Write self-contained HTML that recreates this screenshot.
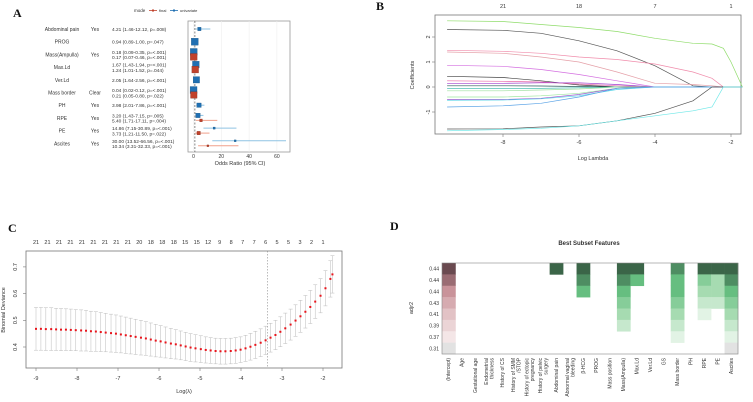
<!DOCTYPE html>
<html><head><meta charset="utf-8"><style>
body{margin:0;background:#fff}
svg{display:block;font-family:"Liberation Sans",sans-serif}
.t{font-size:5.5px;fill:#333}
.L{font-family:"Liberation Serif",serif;font-weight:bold;font-size:12px;fill:#111}
</style></head><body>
<svg id="fig" width="753" height="402" viewBox="0 0 753 402">
<text class="L" x="13" y="17">A</text>
<text class="L" x="376" y="10">B</text>
<text class="L" x="8" y="232">C</text>
<text class="L" x="390" y="230">D</text>
<g id="A"></g>
<g id="B"></g>
<g id="C"></g>
<g id="D"></g>
</svg>
<script>
// ---------- Panel A data ----------
const aVars=["Abdominal pain","PROG","Mass(Ampulla)","Max.Ld","Ver.Ld","Mass border","PH","RPE","PE","Ascites"];
const aLevel=["Yes","","Yes","","","Clear","Yes","Yes","Yes","Yes"];
const uniOR=[4.21,0.94,0.18,1.67,2.05,0.04,3.98,3.20,14.86,30.00];
const uniLo=[1.46,0.89,0.09,1.43,1.64,0.02,2.01,1.43,7.15,13.52];
const uniHi=[12.12,1.00,0.35,1.94,2.56,0.12,7.86,7.15,30.89,66.56];
const uniP=[".008",".047","<.001","<.001","<.001","<.001","<.001",".005","<.001","<.001"];
const finOR=[null,null,0.17,1.24,null,0.21,null,5.40,3.73,10.34];
const finLo=[null,null,0.07,1.01,null,0.05,null,1.71,1.21,3.31];
const finHi=[null,null,0.46,1.52,null,0.80,null,17.11,11.50,32.33];
const finP=[null,null,"<.001",".044",null,".022",null,".004",".022","<.001"];
const aTicks=[0,20,40,60];

// ---------- Panel B data ----------
const bLambda=[-9.47,-8,-7,-6,-5,-4,-3,-2.5,-2.2,-2,-1.7];
const bPaths=[
 [2.65,2.62,2.5,2.38,2.22,1.95,1.75,1.72,1.55,1.0,0],
 [2.3,2.27,2.15,1.85,1.45,0.85,0.05,0,0,0,0],
 [1.47,1.43,1.35,1.2,1.1,0.92,0.6,0.35,0,0,0],
 [1.4,1.35,1.2,1.0,0.6,0.15,0.1,0.05,0,0,0],
 [0.87,0.83,0.7,0.5,0.25,0,0,0,0,0,0],
 [0.43,0.38,0.25,0.08,0,0,0,0,0,0,0],
 [0.25,0.23,0.2,0.12,0.05,0,0,0,0,0,0],
 [0.15,0.15,0.17,0.17,0.1,0,0,0,0,0,0],
 [0.05,0.05,0.04,0.02,0,0,0,0,0,0,0],
 [-0.05,-0.05,-0.05,-0.03,0,0,0,0,0,0,0],
 [-0.15,-0.15,-0.12,-0.08,0,0,0,0,0,0,0],
 [-0.4,-0.4,-0.35,-0.25,-0.05,0,0,0,0,0,0],
 [-0.5,-0.5,-0.45,-0.3,-0.05,0,0,0,0,0,0],
 [-0.53,-0.52,-0.47,-0.35,-0.1,0,0,0,0,0,0],
 [-0.8,-0.75,-0.65,-0.4,-0.05,0,0,0,0,0,0],
 [-1.68,-1.67,-1.6,-1.55,-1.35,-1.05,-0.55,0,0,0,0],
 [-1.75,-1.7,-1.65,-1.55,-1.35,-1.15,-0.95,-0.8,0,0,0]];
const bColors=["#8fdc6a","#555","#f08cab","#e5a0a8","#d46fe0","#444","#e86aa8","#a03fcf","#2a5a5a","#2bb5a8","#9fe0a0","#9ee7a0","#9b59d0","#5ad6e8","#5aa3e6","#555","#6ee8e8"];
const bTopLabels=["21","18","7","1"];
const bTopAt=[-8,-6,-4,-2];
const bXTicks=[-8,-6,-4,-2];
const bYTicks=[-1,0,1,2];

// ---------- Panel C data ----------
const cLambda=[-9.00,-8.88,-8.76,-8.63,-8.51,-8.39,-8.27,-8.15,-8.03,-7.90,-7.78,-7.66,-7.54,-7.42,-7.30,-7.17,-7.05,-6.93,-6.81,-6.69,-6.57,-6.44,-6.32,-6.20,-6.08,-5.96,-5.84,-5.71,-5.59,-5.47,-5.35,-5.23,-5.11,-4.98,-4.86,-4.74,-4.62,-4.50,-4.38,-4.25,-4.13,-4.01,-3.89,-3.77,-3.65,-3.52,-3.40,-3.28,-3.16,-3.04,-2.92,-2.79,-2.67,-2.55,-2.43,-2.31,-2.19,-2.06,-1.94,-1.82,-1.77];
const cDev=[.468,.468,.467,.467,.466,.465,.465,.464,.463,.462,.461,.459,.458,.456,.454,.452,.450,.447,.444,.441,.438,.435,.432,.428,.424,.421,.417,.413,.410,.406,.402,.398,.395,.392,.389,.387,.385,.384,.384,.385,.387,.390,.395,.401,.408,.416,.425,.435,.445,.457,.470,.484,.499,.515,.532,.550,.570,.592,.620,.655,.672];
const cSE=[.080,.080,.080,.080,.079,.079,.078,.078,.077,.077,.076,.075,.074,.073,.072,.071,.070,.069,.068,.067,.066,.065,.063,.062,.061,.059,.058,.057,.055,.054,.053,.052,.051,.050,.049,.048,.048,.048,.048,.048,.048,.048,.049,.050,.051,.052,.053,.054,.055,.056,.057,.058,.059,.060,.061,.062,.063,.064,.066,.068,.070];
const cTop=["21","21","21","21","21","21","21","21","21","20","18","18","18","15","15","12","9","8","7","7","6","5","5","3","2","1"];
const cXTicks=[-9,-8,-7,-6,-5,-4,-3,-2];
const cYTicks=[0.4,0.5,0.6,0.7];
const cMin=-3.35;

// ---------- Panel D data ----------
const dFeatures=["(Intercept)","Age","Gestational age","Endometrial\nthickness","History of CS","History of SMM\n/STOP","History of ectopic\npregnancy","History of pelvic\nsurgery","Abdominal pain","Abnormal vaginal\nbleeding","β-HCG","PROG","Mass position","Mass(Ampulla)","Max.Ld","Ver.Ld","GS","Mass border","PH","RPE","PE","Ascites"];
const dRows=["0.44","0.44","0.44","0.43","0.41","0.39","0.37","0.31"];
// shade level per cell (0 = excluded), row 0 = top
const dCells=[
 [1,0,0,0,0,0,0,0,1,0,1,0,0,1,1,0,0,2,0,1,1,1],
 [2,0,0,0,0,0,0,0,0,0,2,0,0,2,3,0,0,3,0,4,5,2],
 [3,0,0,0,0,0,0,0,0,0,3,0,0,3,0,0,0,3,0,5,5,3],
 [4,0,0,0,0,0,0,0,0,0,0,0,0,4,0,0,0,4,0,6,6,4],
 [5,0,0,0,0,0,0,0,0,0,0,0,0,5,0,0,0,5,0,7,0,5],
 [6,0,0,0,0,0,0,0,0,0,0,0,0,6,0,0,0,6,0,0,0,6],
 [7,0,0,0,0,0,0,0,0,0,0,0,0,0,0,0,0,7,0,0,0,7],
 [8,0,0,0,0,0,0,0,0,0,0,0,0,0,0,0,0,0,0,0,0,8]];
const pinks=["","#6a4a50","#9a6c73","#c9939a","#d6abb0","#e2c2c5","#ebd4d6","#f4e6e7","#e2e2e2"];
const greens=["","#3b6548","#4e8d62","#66be80","#86cd99","#a6dbb1","#c6e8cd","#e2f3e5","#e2e2e2"];

const NS="http://www.w3.org/2000/svg";
function mk(p,tag,at,txt){const e=document.createElementNS(NS,tag);for(const k in at)e.setAttribute(k,at[k]);if(txt!=null)e.textContent=txt;p.appendChild(e);return e;}

// ---------- draw A ----------
(function(){
const g=document.getElementById('A');
const x0=188,x1=290,y0=21,y1=152;
const sx=v=>193.5+v*1.39;
const rowY=i=>29+i*12.7;
mk(g,'rect',{x:x0,y:y0,width:x1-x0,height:y1-y0,fill:'#fff',stroke:'#999','stroke-width':0.8});
aTicks.forEach(t=>{mk(g,'line',{x1:sx(t),x2:sx(t),y1:y0,y2:y1,stroke:'#eee','stroke-width':0.6});
 const tl=mk(g,'text',{x:sx(t),y:158,'text-anchor':'middle',class:'t',style:'font-size:5px'},t);
 
 });
mk(g,'line',{x1:sx(1),x2:sx(1),y1:y0,y2:y1,stroke:'#555','stroke-dasharray':'2,1.5','stroke-width':0.7});
const xt=mk(g,'text',{x:240,y:165,'text-anchor':'middle',class:'t'},'Odds Ratio (95% CI)');

// legend
mk(g,'text',{x:134,y:12,class:'t',style:'font-size:4.5px'},'mode');
mk(g,'line',{x1:149,x2:157,y1:10.5,y2:10.5,stroke:'#c0412b','stroke-width':0.8});
mk(g,'rect',{x:152,y:9.5,width:2,height:2,fill:'#c0412b'});
mk(g,'text',{x:159,y:12,class:'t',style:'font-size:4px'},'final');
mk(g,'line',{x1:170,x2:178,y1:10.5,y2:10.5,stroke:'#1f6fb2','stroke-width':0.8});
mk(g,'rect',{x:173,y:9.5,width:2,height:2,fill:'#1f6fb2'});
mk(g,'text',{x:180,y:12,class:'t',style:'font-size:4px'},'univariate');
const sz=(lo,hi)=>Math.max(1.8,7/(1+(hi-lo)/10));
aVars.forEach((v,i)=>{
 const y=rowY(i);const two=finOR[i]!=null;
 const lb=mk(g,'text',{x:62,y:y+2,'text-anchor':'middle',class:'t',style:'font-size:5px'},v);
 
 if(aLevel[i])mk(g,'text',{x:95,y:y+2,'text-anchor':'middle',class:'t',style:'font-size:5px'},aLevel[i]);
 const f=n=>n.toFixed(2);
 const uy=two?y-2.5:y;
 mk(g,'text',{x:112,y:uy+2,class:'t',style:'font-size:4.8px'},`${f(uniOR[i])} (${f(uniLo[i])}-${f(uniHi[i])}, p=${uniP[i]})`);
 if(two)mk(g,'text',{x:112,y:y+4.8,class:'t',style:'font-size:4.8px'},`${f(finOR[i])} (${f(finLo[i])}-${f(finHi[i])}, p=${finP[i]})`);
 const ul=mk(g,'line',{x1:sx(uniLo[i]),x2:Math.min(sx(uniHi[i]),x1),y1:uy,y2:uy,stroke:'#8fc3e3','stroke-width':1});
 
 let s=sz(uniLo[i],uniHi[i]);
 const ur=mk(g,'rect',{x:sx(uniOR[i])-s/2,y:uy-s/2,width:s,height:s,fill:'#1f6fb2',stroke:'#14507f','stroke-width':0.3});
 
 if(two){const fy=y+2.5;
  const fl=mk(g,'line',{x1:sx(finLo[i]),x2:sx(finHi[i]),y1:fy,y2:fy,stroke:'#f0a08b','stroke-width':1});
  
  s=sz(finLo[i],finHi[i]);
  const fr=mk(g,'rect',{x:sx(finOR[i])-s/2,y:fy-s/2,width:s,height:s,fill:'#c0412b',stroke:'#7a2a1c','stroke-width':0.3});
  }
});
})();

// ---------- draw B ----------
(function(){
const g=document.getElementById('B');
const sx=v=>503+(v+8)*38, sy=v=>87-v*25;
mk(g,'rect',{x:435,y:15,width:306,height:119,fill:'none',stroke:'#777','stroke-width':0.8});
bPaths.forEach((p,k)=>{
 const d=p.map((v,j)=>(j?'L':'M')+sx(bLambda[j]).toFixed(1)+','+sy(v).toFixed(1)).join('');
 const pl=mk(g,'path',{d:d,fill:'none',stroke:bColors[k],'stroke-width':0.7});
 });
bXTicks.forEach(t=>{mk(g,'line',{x1:sx(t),x2:sx(t),y1:134,y2:137,stroke:'#777','stroke-width':0.6});
 const tl=mk(g,'text',{x:sx(t),y:144,'text-anchor':'middle',class:'t'},t);
 });
bTopLabels.forEach((t,k)=>{const tl=mk(g,'text',{x:sx(bTopAt[k]),y:8,'text-anchor':'middle',class:'t'},t);
 });
bYTicks.forEach(t=>{mk(g,'line',{x1:432,x2:435,y1:sy(t),y2:sy(t),stroke:'#777','stroke-width':0.6});
 const tl=mk(g,'text',{x:430,y:sy(t),'text-anchor':'middle',class:'t',transform:`rotate(-90 430 ${sy(t)})`},t);
 });
const xt=mk(g,'text',{x:593,y:160,'text-anchor':'middle',class:'t'},'Log Lambda');

const yt=mk(g,'text',{x:414,y:75,'text-anchor':'middle',class:'t',transform:'rotate(-90 414 75)'},'Coefficients');

})();

// ---------- draw C ----------
(function(){
const g=document.getElementById('C');
const sx=v=>36+(v+9)*41, sy=v=>347-(v-0.4)*267;
mk(g,'rect',{x:26,y:251,width:316,height:117,fill:'none',stroke:'#777','stroke-width':0.8});
cDev.forEach((v,i)=>{const x=sx(cLambda[i]),hi=sy(v+cSE[i]),lo=sy(v-cSE[i]);
 mk(g,'path',{d:`M${x},${hi}V${lo}M${x-2},${hi}H${x+2}M${x-2},${lo}H${x+2}`,stroke:'#bbb','stroke-width':0.5,fill:'none'});
 const c=mk(g,'rect',{x:x-1,y:sy(v)-1,width:2,height:2,fill:'#e8141b'});
 });
mk(g,'line',{x1:sx(cMin),x2:sx(cMin),y1:251,y2:368,stroke:'#777','stroke-dasharray':'1.5,1.5','stroke-width':0.5});
cXTicks.forEach(t=>{mk(g,'line',{x1:sx(t),x2:sx(t),y1:368,y2:371,stroke:'#777','stroke-width':0.6});
 const tl=mk(g,'text',{x:sx(t),y:380,'text-anchor':'middle',class:'t'},t);
 });
cTop.forEach((t,i)=>{const tl=mk(g,'text',{x:sx(-9+i*7/23*(23/(cTop.length-1))),y:244,'text-anchor':'middle',class:'t'},t);
 });
cYTicks.forEach(t=>{mk(g,'line',{x1:23,x2:26,y1:sy(t),y2:sy(t),stroke:'#777','stroke-width':0.6});
 const tl=mk(g,'text',{x:17,y:sy(t),'text-anchor':'middle',class:'t',transform:`rotate(-90 17 ${sy(t)})`},t.toFixed(1));
 });
const xt=mk(g,'text',{x:184,y:393,'text-anchor':'middle',class:'t'},'Log(λ)');

const yt=mk(g,'text',{x:5,y:310,'text-anchor':'middle',class:'t',transform:'rotate(-90 5 310)'},'Binomial Deviance');

})();

// ---------- draw D ----------
(function(){
const g=document.getElementById('D');
const X0=442,Y0=263,W=296,H=91,cw=W/dFeatures.length,rh=H/dRows.length;
const tt=mk(g,'text',{x:589,y:245,'text-anchor':'middle',class:'t',style:'font-weight:bold;font-size:6px'},'Best Subset Features');

mk(g,'rect',{x:X0,y:Y0,width:W,height:H,fill:'#fff'});
dCells.forEach((row,r)=>row.forEach((lv,c)=>{if(!lv)return;
 const cell=mk(g,'rect',{x:X0+c*cw,y:Y0+r*rh,width:cw+0.3,height:rh+0.3,fill:(c===0?pinks:greens)[lv]});
 }));
mk(g,'rect',{x:X0,y:Y0,width:W,height:H,fill:'none',stroke:'#888','stroke-width':0.6});
dRows.forEach((t,r)=>{const tl=mk(g,'text',{x:X0-3,y:Y0+r*rh+rh/2+2,'text-anchor':'end',class:'t',style:'font-size:5px'},t);
 });
const yt=mk(g,'text',{x:413,y:308,'text-anchor':'middle',class:'t',transform:'rotate(-90 413 308)'},'adjr2');

dFeatures.forEach((f,c)=>{const x=X0+c*cw+cw/2;
 f.split('\n').forEach((ln,k)=>{const xx=x+1.5+k*5.5-(f.includes('\n')?2.5:0);
  const tl=mk(g,'text',{x:xx,y:358,'text-anchor':'end',class:'t',style:'font-size:5px',transform:`rotate(-90 ${xx} 358)`},ln);
  });});
})();
</script>
</body></html>
